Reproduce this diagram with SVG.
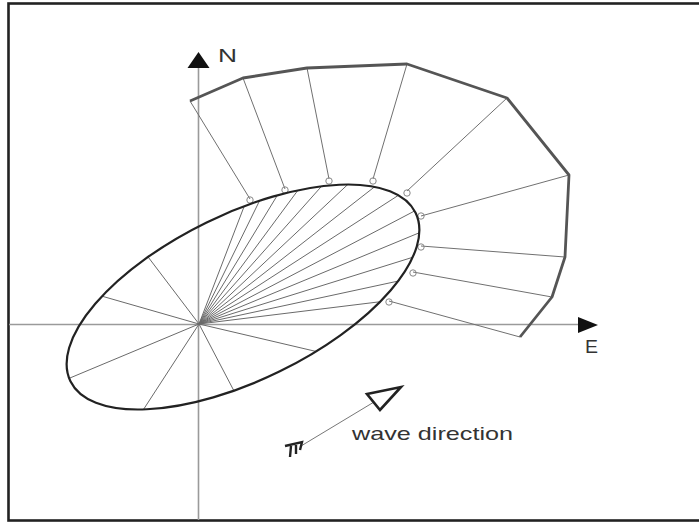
<svg xmlns="http://www.w3.org/2000/svg" width="699" height="523" viewBox="0 0 699 523">
<style>
.axis{stroke:#9a9a9a;stroke-width:1.6;fill:none}
.ray{stroke:#6a6a6a;stroke-width:1;fill:none}
.outer{stroke:#707070;stroke-width:1;fill:none}
.poly{stroke:#555;stroke-width:2.8;fill:none;stroke-linejoin:round}
.ell{stroke:#222;stroke-width:2.2;fill:none}
.dot{stroke:#888;stroke-width:1;fill:none}
.lbl{font-family:"Liberation Sans",Arial,sans-serif;fill:#333}
</style>
<defs>
<ellipse id="ellPath" cx="0" cy="0" rx="192" ry="83" transform="translate(243,297) rotate(-26)"/>
<clipPath id="ellClip"><use href="#ellPath"/></clipPath>
</defs>
<rect x="0" y="0" width="699" height="523" fill="#fff"/>
<g id="frame"><rect x="8.5" y="3.5" width="700" height="517" fill="none" stroke="#222" stroke-width="2.6"/></g>
<g id="axes">
<line class="axis" x1="9" y1="324.5" x2="582" y2="324.5"/>
<line class="axis" x1="198.5" y1="66" x2="198.5" y2="520"/>
<polygon points="198.5,52 187.5,68 209.5,68" fill="#111"/>
<polygon points="598,325 578,317 578,333" fill="#111"/>
</g>
<g id="labels">
<text class="lbl" x="218" y="62" font-size="18" textLength="19" lengthAdjust="spacingAndGlyphs">N</text>
<text class="lbl" x="585" y="353" font-size="18" textLength="13" lengthAdjust="spacingAndGlyphs">E</text>
<text class="lbl" x="352" y="440" font-size="18.5" textLength="161" lengthAdjust="spacingAndGlyphs">wave direction</text>
</g>
<g id="connectors">
<g id="rays" clip-path="url(#ellClip)">
<path class="ray" d="M199,324 L306.5,43.9 M199,324 L331.3,54.7 M199,324 L355,67.7 M199,324 L377.4,82.8 M199,324 L398.4,99.9 M199,324 L417.8,118.8 M199,324 L435.4,139.3 M199,324 L451.1,161.3 M199,324 L464.7,184.7 M199,324 L476.2,209.2 M199,324 L485.4,234.6 M199,324 L492.2,260.8 M199,324 L496.8,287.4"/>
<path class="ray" d="M199,324 L17.6,85.1 M199,324 L-89.4,241.3 M199,324 L-77.8,439.8 M199,324 L35.6,575.6 M199,324 L338,589.9 M199,324 L491.1,392.5"/>
</g>
<g id="outer-lines">
<path class="outer" d="M190,101 L250,199 M243,78 L285,189 M307,68 L329,179 M407,64 L373,179 M507,98 L407,191 M569,175 L421,216 M565,257 L421,246 M552,297 L413,272 M520,337 L389,301"/>
</g>
</g>
<g id="markers">
<circle class="dot" cx="250" cy="200" r="3.2"/>
<circle class="dot" cx="285" cy="190" r="3.2"/>
<circle class="dot" cx="329" cy="181" r="3.2"/>
<circle class="dot" cx="373" cy="181" r="3.2"/>
<circle class="dot" cx="407" cy="193" r="3.2"/>
<circle class="dot" cx="421" cy="216" r="3.2"/>
<circle class="dot" cx="421" cy="247" r="3.2"/>
<circle class="dot" cx="413" cy="273" r="3.2"/>
<circle class="dot" cx="389" cy="302" r="3.2"/>
</g>
<g id="ellipse"><use href="#ellPath" class="ell"/></g>
<g id="outer-curve">
<polyline class="poly" points="190,101 243,78 307,68 407,64 507,98 569,175 565,257 552,297 520,337"/>
</g>
<g id="wave-direction">
<line x1="374" y1="402" x2="301" y2="446" stroke="#777" stroke-width="1"/>
<polygon points="367,394 401,387 380,410" fill="none" stroke="#222" stroke-width="2.6" stroke-linejoin="miter"/>
<path d="M285,446 L302,442 L300,450 M291,446 L290,457 M296,445 L296,454" fill="none" stroke="#222" stroke-width="2.4"/>
</g>
</svg>
